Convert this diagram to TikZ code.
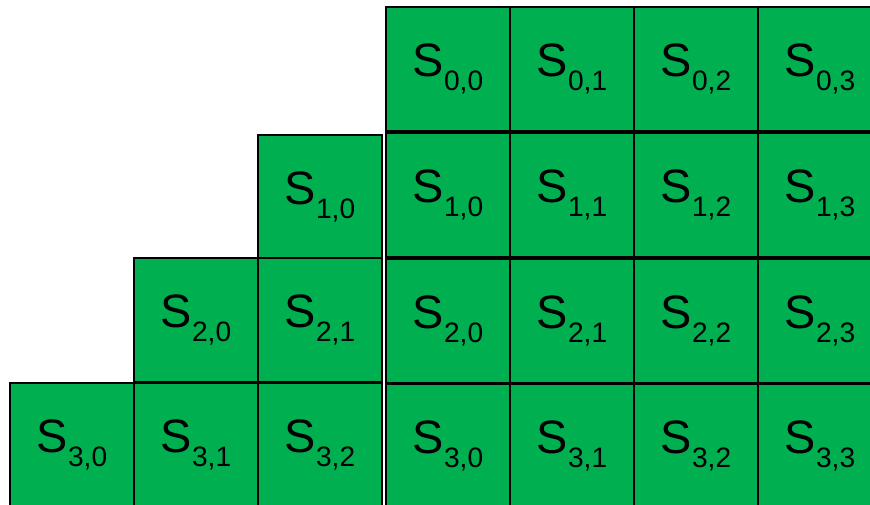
\documentclass[tikz,border=0pt]{standalone}
\usepackage{fontspec}
\setmainfont{Liberation Sans}
\definecolor{cellgreen}{RGB}{0,176,80}
\newcommand{\stxt}[2]{\raisebox{-0.1cm}{{\fontsize{40}{40}\selectfont S}\raisebox{-0.42cm}{\fontsize{24}{24}\selectfont #1,#2}}}

\begin{document}
\begin{tikzpicture}[x=0.03cm,y=-0.03cm,
  cell/.style={draw=black,fill=cellgreen,line width=1.1pt,minimum size=3.72cm,
               inner sep=0pt,outer sep=0pt}]
  \clip (0,0) rectangle (870,504);

  % full block on the right
  \foreach \r/\yc in {0/69,1/195,2/321,3/446} {
    \foreach \c in {0,...,3} {
      \node[cell] (R\r\c) at ({448+124*\c},\yc) {\stxt{\r}{\c}};
    }
  }

  % staircase on the left
  \foreach \r/\yc in {1/197,2/320,3/445} {
    \pgfmathtruncatemacro{\last}{\r-1}
    \foreach \c in {0,...,\last} {
      \node[cell] (L\r\c) at ({382-124*(\r-\c)+62},\yc) {\stxt{\r}{\c}};
    }
  }
\end{tikzpicture}
\end{document}
